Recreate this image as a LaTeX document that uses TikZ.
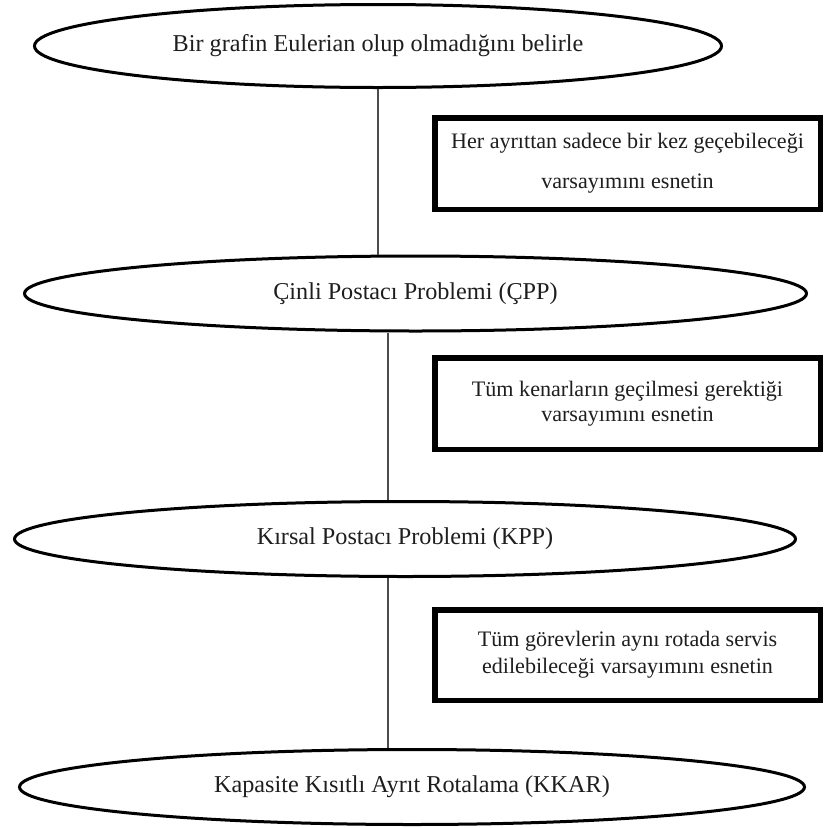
\documentclass[tikz,border=0pt]{standalone}
\usepackage{fontspec}
\setmainfont{Liberation Serif}
\usetikzlibrary{shapes.geometric}
\definecolor{txt}{HTML}{1E1E1E}
\begin{document}
\begin{tikzpicture}[x=1pt,y=-1pt,
  ell/.style={ellipse, draw=black, line width=3pt, inner sep=0pt, fill=white,
    text=txt, font=\fontsize{24.2}{28}\selectfont},
  note/.style={rectangle, draw=black, line width=5.5pt, inner sep=0pt,
    align=center, text=txt, font=\fontsize{22.1}{27}\selectfont},
  link/.style={draw=black!70, line width=1.2pt}]
\useasboundingbox (0,0) rectangle (824,828);
\node[ell, minimum width=687pt, minimum height=83pt] (e1) at (378,46)
  {Bir grafin Eulerian olup olmadığını belirle};
\node[ell, minimum width=782pt, minimum height=75pt] (e2) at (415.5,293.5)
  {Çinli Postacı Problemi (ÇPP)};
\node[ell, minimum width=781pt, minimum height=75pt] (e3) at (405,539)
  {Kırsal Postacı Problemi (KPP)};
\node[ell, minimum width=785pt, minimum height=75pt] (e4) at (412,787)
  {Kapasite Kısıtlı Ayrıt Rotalama (KKAR)};
\node[note, minimum width=385.5pt, minimum height=91.5pt] (b1) at (627.5,163.5)
  {Her ayrıttan sadece bir kez geçebileceği\\[13pt]varsayımını esnetin};
\node[note, minimum width=385.5pt, minimum height=91.5pt,
  font=\fontsize{22.1}{25}\selectfont] (b2) at (627.5,403.5)
  {Tüm kenarların geçilmesi gerektiği\\varsayımını esnetin};
\node[note, minimum width=385.5pt, minimum height=90.5pt] (b3) at (627.5,655)
  {Tüm görevlerin aynı rotada servis\\edilebileceği varsayımını esnetin};
\coordinate (c1) at (378,0);
\coordinate (c2) at (388,0);
\draw[link] (e1.south -| c1) -- (e2.north -| c1);
\draw[link] (e2.south -| c2) -- (e3.north -| c2);
\draw[link] (e3.south -| c2) -- (e4.north -| c2);
\end{tikzpicture}
\end{document}
